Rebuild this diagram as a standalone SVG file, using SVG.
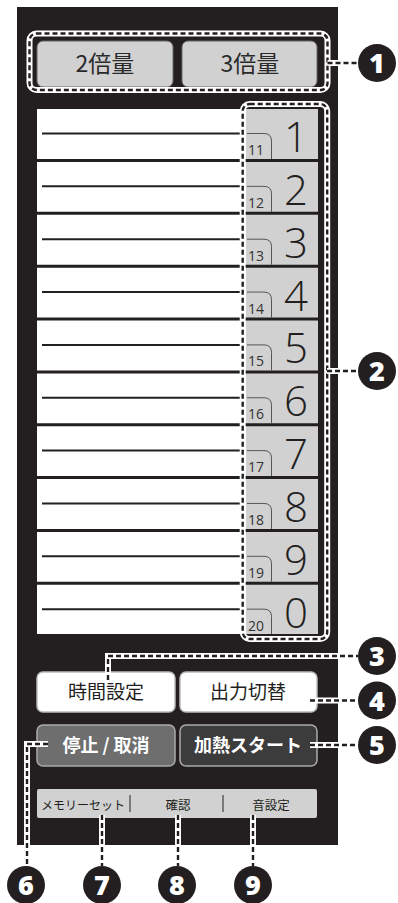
<svg xmlns="http://www.w3.org/2000/svg" width="398" height="903" viewBox="0 0 398 903">
<style>
.jp{font-family:"Noto Sans CJK JP","Noto Sans",sans-serif}
.dg{font-family:"Open Sans","Noto Sans",sans-serif;font-weight:300;font-size:42px;fill:#231f20;text-anchor:middle}
.tab{fill:none;stroke:#555;stroke-width:1}
.tn{font-family:"Open Sans","Noto Sans",sans-serif;font-size:14px;fill:#333}
.wl{fill:none;stroke:#fff;stroke-width:6}
.bl{fill:none;stroke:#231f20;stroke-width:2.4;stroke-dasharray:5 3}
.cn{fill:#231f20}
.ct{font-family:"Open Sans","Noto Sans",sans-serif;font-weight:800;font-size:27px;fill:#fff;text-anchor:middle}
.sep{stroke:#231f20;stroke-width:3}
.rl{stroke:#231f20;stroke-width:2}
</style>
<rect id="panel" x="17" y="7" width="321" height="838" fill="#231f20"/>
<g id="top-buttons">
<rect x="37" y="41" width="136" height="46" rx="6" fill="#d1d1d1" stroke="#666" stroke-width="1"/>
<text x="105" y="72" class="jp" font-size="23" fill="#2a2a2a" text-anchor="middle">2倍量</text>
<rect x="182" y="41" width="135" height="46" rx="6" fill="#d1d1d1" stroke="#666" stroke-width="1"/>
<text x="250" y="72" class="jp" font-size="23" fill="#2a2a2a" text-anchor="middle">3倍量</text>
</g>
<g id="list">
<rect x="37" y="109" width="209" height="525" fill="#fff"/>
<rect x="246" y="109" width="72" height="525" fill="#d1d1d1"/>
<g id="row-lines">
<line class="sep" x1="37" x2="318" y1="160.5" y2="160.5"/>
<line class="sep" x1="37" x2="318" y1="213.35" y2="213.35"/>
<line class="sep" x1="37" x2="318" y1="266.2" y2="266.2"/>
<line class="sep" x1="37" x2="318" y1="319.05" y2="319.05"/>
<line class="sep" x1="37" x2="318" y1="371.9" y2="371.9"/>
<line class="sep" x1="37" x2="318" y1="424.75" y2="424.75"/>
<line class="sep" x1="37" x2="318" y1="477.6" y2="477.6"/>
<line class="sep" x1="37" x2="318" y1="530.45" y2="530.45"/>
<line class="sep" x1="37" x2="318" y1="583.3" y2="583.3"/>
</g>
<g id="row1"><line class="rl" x1="42" x2="242" y1="133.5" y2="133.5"/><path class="tab" d="M247 133.5H264Q271.5 133.5 271.5 141V159"/><text class="tn" x="248" y="155">11</text><text class="dg" x="296" y="152">1</text></g>
<g id="row2"><line class="rl" x1="42" x2="242" y1="186.35" y2="186.35"/><path class="tab" d="M247 186.35H264Q271.5 186.35 271.5 193.85V211.85"/><text class="tn" x="248" y="207.85">12</text><text class="dg" x="296" y="204.85">2</text></g>
<g id="row3"><line class="rl" x1="42" x2="242" y1="239.2" y2="239.2"/><path class="tab" d="M247 239.2H264Q271.5 239.2 271.5 246.7V264.7"/><text class="tn" x="248" y="260.7">13</text><text class="dg" x="296" y="257.7">3</text></g>
<g id="row4"><line class="rl" x1="42" x2="242" y1="292.05" y2="292.05"/><path class="tab" d="M247 292.05H264Q271.5 292.05 271.5 299.55V317.55"/><text class="tn" x="248" y="313.55">14</text><text class="dg" x="296" y="310.55">4</text></g>
<g id="row5"><line class="rl" x1="42" x2="242" y1="344.9" y2="344.9"/><path class="tab" d="M247 344.9H264Q271.5 344.9 271.5 352.4V370.4"/><text class="tn" x="248" y="366.4">15</text><text class="dg" x="296" y="363.4">5</text></g>
<g id="row6"><line class="rl" x1="42" x2="242" y1="397.75" y2="397.75"/><path class="tab" d="M247 397.75H264Q271.5 397.75 271.5 405.25V423.25"/><text class="tn" x="248" y="419.25">16</text><text class="dg" x="296" y="416.25">6</text></g>
<g id="row7"><line class="rl" x1="42" x2="242" y1="450.6" y2="450.6"/><path class="tab" d="M247 450.6H264Q271.5 450.6 271.5 458.1V476.1"/><text class="tn" x="248" y="472.1">17</text><text class="dg" x="296" y="469.1">7</text></g>
<g id="row8"><line class="rl" x1="42" x2="242" y1="503.45" y2="503.45"/><path class="tab" d="M247 503.45H264Q271.5 503.45 271.5 510.95V528.95"/><text class="tn" x="248" y="524.95">18</text><text class="dg" x="296" y="521.95">8</text></g>
<g id="row9"><line class="rl" x1="42" x2="242" y1="556.3" y2="556.3"/><path class="tab" d="M247 556.3H264Q271.5 556.3 271.5 563.8V581.8"/><text class="tn" x="248" y="577.8">19</text><text class="dg" x="296" y="574.8">9</text></g>
<g id="row10"><line class="rl" x1="42" x2="242" y1="609.15" y2="609.15"/><path class="tab" d="M247 609.15H264Q271.5 609.15 271.5 616.65V634"/><text class="tn" x="248" y="630.65">20</text><text class="dg" x="296" y="627.65">0</text></g>
</g>
<g id="func-buttons">
<g id="btn-time"><rect x="37" y="672" width="138" height="40" rx="6" fill="#fff" stroke="#bbb" stroke-width="1.5"/><text x="106" y="699" class="jp" font-size="19" fill="#231f20" text-anchor="middle">時間設定</text></g>
<g id="btn-output"><rect x="180" y="672" width="137" height="40" rx="6" fill="#fff" stroke="#bbb" stroke-width="1.5"/><text x="248" y="699" class="jp" font-size="19" fill="#231f20" text-anchor="middle">出力切替</text></g>
<g id="btn-stop"><rect x="37" y="725" width="138" height="41" rx="6" fill="#6e6e6e" stroke="#aaa" stroke-width="1.5"/><text x="106" y="752" class="jp" font-size="18" font-weight="bold" fill="#fff" text-anchor="middle">停止 / 取消</text></g>
<g id="btn-start"><rect x="180" y="725" width="137" height="41" rx="6" fill="#3c3c3c" stroke="#aaa" stroke-width="1.5"/><text x="248" y="752" class="jp" font-size="18" font-weight="bold" fill="#fff" text-anchor="middle">加熱スタート</text></g>
</g>
<g id="bottom-bar">
<rect x="37" y="789" width="280" height="29" rx="2" fill="#d1d1d1"/>
<text x="83" y="810" class="jp" font-size="12" fill="#231f20" text-anchor="middle">メモリーセット</text>
<line x1="130" x2="130" y1="795" y2="812" stroke="#231f20" stroke-width="1"/>
<text x="178" y="810" class="jp" font-size="12.5" fill="#231f20" text-anchor="middle">確認</text>
<line x1="223" x2="223" y1="795" y2="812" stroke="#231f20" stroke-width="1"/>
<text x="271" y="810" class="jp" font-size="12.5" fill="#231f20" text-anchor="middle">音設定</text>
</g>
<g id="connectors">
<rect class="wl" x="29.5" y="33.5" width="298" height="56.5" rx="7"/>
<rect class="bl" x="29.5" y="33.5" width="298" height="56.5" rx="7"/>
<rect class="wl" x="242.7" y="104" width="84.5" height="535" rx="7"/>
<rect class="bl" x="242.7" y="104" width="84.5" height="535" rx="7"/>
<path class="wl" d="M327.5 63H358M327 371H358M108 680V656H358M310 700.5H358M310 745H358M48 744H27V866M102 815V866M178 815V866M253 815V866"/>
<path class="bl" d="M327.5 63H358M327 371H358M108 680V656H358M310 700.5H358M310 745H358M48 744H27V866M102 815V866M178 815V866M253 815V866"/>
</g>
<g id="callout-1"><circle class="cn" cx="377" cy="63" r="19"/><text class="ct" x="377" y="73">1</text></g>
<g id="callout-2"><circle class="cn" cx="377" cy="371" r="19"/><text class="ct" x="377" y="381">2</text></g>
<g id="callout-3"><circle class="cn" cx="377" cy="656" r="19"/><text class="ct" x="377" y="666">3</text></g>
<g id="callout-4"><circle class="cn" cx="377" cy="700.5" r="19"/><text class="ct" x="377" y="710.5">4</text></g>
<g id="callout-5"><circle class="cn" cx="377" cy="745" r="19"/><text class="ct" x="377" y="755">5</text></g>
<g id="callout-6"><circle class="cn" cx="26" cy="885" r="19"/><text class="ct" x="26" y="895">6</text></g>
<g id="callout-7"><circle class="cn" cx="102" cy="885" r="19"/><text class="ct" x="102" y="895">7</text></g>
<g id="callout-8"><circle class="cn" cx="177" cy="885" r="19"/><text class="ct" x="177" y="895">8</text></g>
<g id="callout-9"><circle class="cn" cx="253" cy="885" r="19"/><text class="ct" x="253" y="895">9</text></g>
</svg>
